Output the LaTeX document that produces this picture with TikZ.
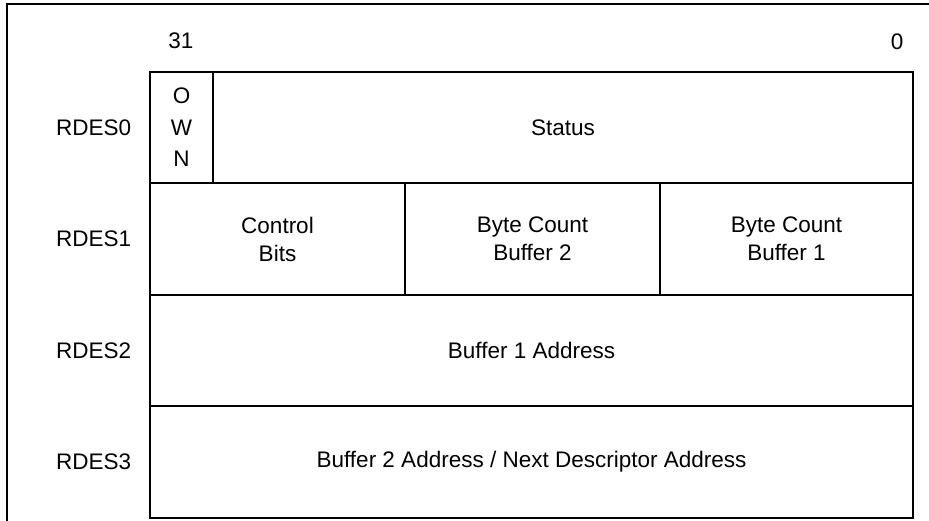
\documentclass[tikz,border=0pt]{standalone}
\usepackage{fontspec}
\setmainfont{Liberation Sans}
\usepackage{tikz}
\usetikzlibrary{positioning,calc}

\begin{document}
\begin{tikzpicture}[x=1pt,y=-1pt,line width=1.6pt,
  every node/.style={font=\fontsize{22.5}{28}\selectfont,inner sep=0pt},
  cell/.style={draw,anchor=north west,outer sep=0pt,align=center,minimum height=111pt}]
\useasboundingbox (0,0) rectangle (929,521);
\draw (7,521) -- (7,4) -- (929,4);
% bit numbers
\node (b31) at (181,41) {31};
\node (b0) at (897,42) {0};
% descriptor words
\node[cell,minimum width=63pt,font=\fontsize{22.5}{31.5}\selectfont] (own) at (150,72) {O\\W\\N};
\node[cell,minimum width=700pt] (status) at (213,72) {Status};
\node[cell,minimum width=255pt,minimum height=112pt] (ctrl) at (150,183) {Control\\Bits};
\node[cell,minimum width=255pt,minimum height=112pt] (bc2) at (405,183) {Byte Count\\Buffer 2};
\node[cell,minimum width=253pt,minimum height=112pt] (bc1) at (660,183) {Byte Count\\Buffer 1};
\node[cell,minimum width=763pt] (buf1) at (150,295) {Buffer 1 Address};
\node[cell,minimum width=763pt,minimum height=112pt] (buf2) at (150,406) {Buffer 2 Address / Next Descriptor Address};
% row labels
\node[left=18pt of own.west] (r0) {RDES0};
\node[left=18pt of ctrl.west] (r1) {RDES1};
\node[left=18pt of buf1.west] (r2) {RDES2};
\node[left=18pt of buf2.west] (r3) {RDES3};
\end{tikzpicture}
\end{document}
